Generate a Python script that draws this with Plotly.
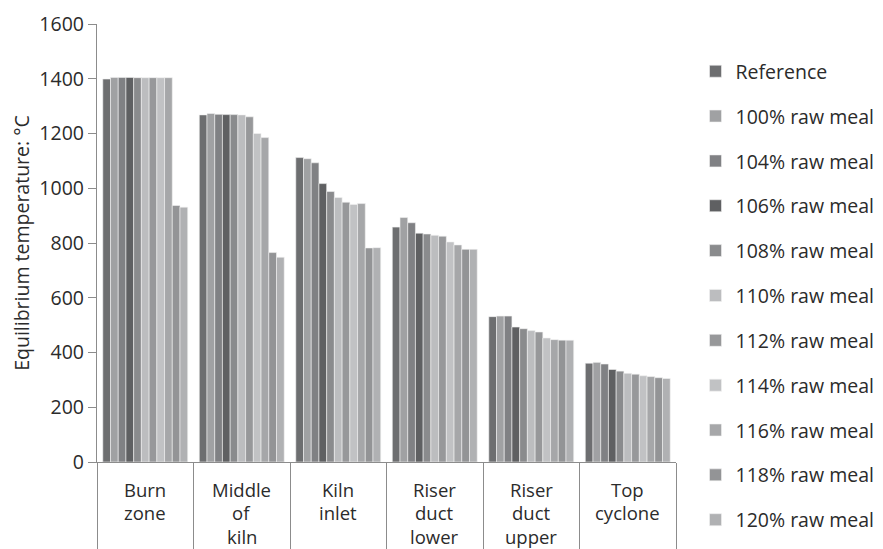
import plotly.graph_objects as go

categories = ["Burn zone", "Middle of kiln", "Kiln inlet", "Riser duct lower", "Riser duct upper", "Top cyclone"]
category_lines = [["Burn", "zone"], ["Middle", "of", "kiln"], ["Kiln", "inlet"],
                  ["Riser", "duct", "lower"], ["Riser", "duct", "upper"], ["Top", "cyclone"]]

series_names = ["Reference", "100% raw meal", "104% raw meal", "106% raw meal", "108% raw meal",
                "110% raw meal", "112% raw meal", "114% raw meal", "116% raw meal",
                "118% raw meal", "120% raw meal"]

reference = [1399, 1268, 1112, 858, 531, 361]
raw_100 = [1405, 1273, 1108, 893, 533, 364]
raw_104 = [1405, 1270, 1093, 874, 533, 358]
raw_106 = [1405, 1269, 1017, 836, 493, 338]
raw_108 = [1404, 1269, 988, 833, 487, 332]
raw_110 = [1404, 1268, 966, 828, 480, 324]
raw_112 = [1404, 1261, 949, 825, 475, 321]
raw_114 = [1404, 1200, 941, 804, 453, 315]
raw_116 = [1404, 1185, 944, 793, 447, 312]
raw_118 = [937, 765, 782, 777, 445, 308]
raw_120 = [931, 748, 783, 777, 445, 305]

series_values = [reference, raw_100, raw_104, raw_106, raw_108, raw_110,
                 raw_112, raw_114, raw_116, raw_118, raw_120]

colors = ["#6d6e70", "#a0a1a3", "#808184", "#5f6062", "#8a8b8d", "#bcbdbf",
          "#97989a", "#c1c2c4", "#a6a7a9", "#939496", "#b0b1b3"]

y_ticks = [0, 200, 400, 600, 800, 1000, 1200, 1400, 1600]

FONT = "Open Sans"
FS = 19.5
CAT_FS = 18.5
TXT = "#2b2b2b"
AX = "#8c8c8c"

fig = go.Figure()
for name, vals, col in zip(series_names, series_values, colors):
    fig.add_trace(go.Bar(
        x=categories, y=vals, name=name, legendgroup=name,
        marker=dict(color=col, line=dict(color="#f2f2f2", width=0.6)),
    ))

for i, lines in enumerate(category_lines):
    for j, ln in enumerate(lines):
        fig.add_annotation(
            x=categories[i], xref="x", y=0, yref="paper",
            text=ln, showarrow=False, yanchor="middle", xanchor="center",
            yshift=-27 - j * 23.5, borderpad=0,
            font=dict(family=FONT, size=CAT_FS, color=TXT),
        )

fig.update_layout(
    width=883, height=549,
    margin=dict(l=97, r=207, t=24, b=87, autoexpand=False),
    paper_bgcolor="white", plot_bgcolor="white",
    barmode="group", bargap=0.12, bargroupgap=0,
    font=dict(family=FONT, size=FS, color=TXT),
    showlegend=True,
    legend=dict(
        x=1.0337, xanchor="left", y=0.936, yanchor="top",
        font=dict(family=FONT, size=FS, color=TXT),
        traceorder="grouped", tracegroupgap=16.5,
        bgcolor="rgba(0,0,0,0)", maxheight=549,
    ),
    xaxis=dict(
        type="category", range=[-0.5, 5.5],
        showline=True, linecolor=AX, linewidth=1.3,
        ticks="outside", tickson="boundaries", ticklen=87, tickcolor=AX, tickwidth=1.3,
        showticklabels=False, showgrid=False, zeroline=False,
    ),
    yaxis=dict(
        range=[0, 1600], tickvals=y_ticks,
        showline=True, linecolor=AX, linewidth=1.3,
        ticks="outside", ticklen=8, tickcolor=AX, tickwidth=1.3,
        showgrid=False, zeroline=False,
        tickfont=dict(family=FONT, size=FS, color=TXT),
        title=dict(text="Equilibrium temperature: °C", standoff=4,
                   font=dict(family=FONT, size=FS, color=TXT)),
    ),
)

fig.write_html("out.html", config={"displayModeBar": False},
               post_script="document.body.style.margin='0';")
